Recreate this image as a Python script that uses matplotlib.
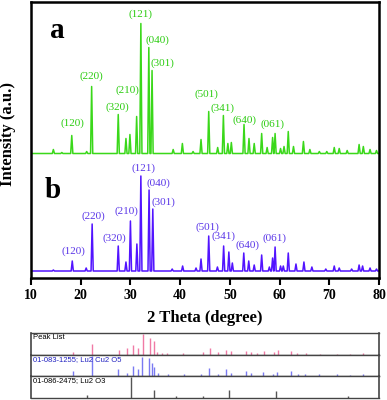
import matplotlib.pyplot as plt

# pattern a (green): peak positions (2 theta) and heights above its own baseline
a_pos = [14.5, 16.2, 18.2, 21.2, 22.2, 27.55, 29.1, 29.9, 31.25, 32.1, 33.7, 34.35,
         38.6, 40.45, 42.6, 44.2, 45.75, 47.55, 48.7, 49.6, 50.3, 52.85, 53.85, 54.9,
         56.4, 57.5, 58.6, 59.1, 60.2, 60.9, 61.75, 62.8, 64.8, 66.1, 68.0, 69.5,
         71.0, 72.0, 73.6, 76.0, 76.85, 78.2, 79.5]
a_int = [4, 1, 18, 2, 67, 39, 15, 19, 37, 130, 106, 83,
         4, 10, 2, 14, 42, 6, 38, 10, 11, 29, 15, 10,
         20, 6, 16, 20, 5, 7, 22, 7, 12, 4, 2, 2,
         6, 5, 3, 9, 7, 4, 3]

# pattern b (blue)
b_pos = [14.5, 18.3, 21.1, 22.3, 27.55, 29.1, 30.0, 31.3, 32.1, 33.75, 34.5,
         38.4, 40.5, 43.2, 44.2, 45.75, 47.5, 48.75, 49.8, 50.5, 52.8, 53.8, 54.9,
         56.4, 57.95, 58.6, 59.1, 60.2, 60.75, 61.75, 63.3, 64.9, 66.5, 69.3,
         71.0, 72.0, 74.5, 76.0, 76.7, 78.2, 79.5]
b_int = [1, 10, 3, 47, 25, 9, 50, 27, 95, 81, 62,
         2, 5, 3, 12, 35, 4, 25, 19, 8, 18, 10, 6,
         16, 4, 13, 24, 5, 5, 18, 7, 9, 4, 2,
         5, 3, 2, 6, 5, 3, 2]

a_offset = 124.5
b_offset = 7

hkl = ["(121)", "(040)", "(301)", "(220)", "(210)", "(320)", "(120)",
       "(501)", "(341)", "(640)", "(061)"]
a_lab_x = [31.93, 35.35, 36.35, 22.07, 29.31, 27.3, 18.25, 45.2, 48.62, 52.85, 58.48]
a_lab_y = [264, 238, 215, 202, 188, 171, 155, 184, 170, 158, 154]
b_lab_x = [32.53, 35.55, 36.55, 22.47, 29.11, 26.7, 18.45, 45.4, 48.82, 53.45, 59.08]
b_lab_y = [110, 95, 76, 62, 67, 40, 27, 51, 42, 33, 40]

# reference stick patterns
pk_pos = [18.5, 22.2, 27.7, 29.4, 30.5, 31.5, 32.45, 34.0, 34.7, 35.3, 36.4, 37.4,
          40.6, 44.5, 46.1, 47.7, 49.2, 50.2, 53.2, 54.2, 55.4, 56.9, 58.9, 59.6,
          62.3, 63.6, 65.4, 68.1, 71.5, 74.2, 76.7]
pk_int = [2.5, 11, 5, 7, 10, 7, 21, 17, 14, 3, 2, 2,
          2, 3, 7, 3, 5, 4, 4, 3, 2, 4, 3, 5,
          4, 2, 2, 1, 1, 1, 2]
cu_pos = [18.4, 22.2, 27.6, 29.4, 30.5, 31.5, 32.4, 33.8, 34.4, 34.75, 35.6, 37.6,
          40.8, 44.2, 45.8, 47.7, 49.2, 50.2, 53.2, 54.2, 56.7, 58.7, 59.4, 62.2,
          63.7, 65.2, 68.0, 71.5, 74.2, 76.7]
cu_int = [5, 21, 7, 3, 11, 7, 20, 19, 14, 9, 3, 2,
          2, 2, 8, 2, 7, 3, 5, 3, 4, 2, 4, 5,
          2, 2, 2, 2, 1, 2]
lu_pos = [21.2, 30.1, 34.8, 39.2, 44.5, 49.9, 59.3, 73.8]
lu_int = [3.5, 21, 8, 2, 2, 8, 7, 2]

serif = ["Liberation Serif", "DejaVu Serif"]
sans = ["Liberation Sans", "DejaVu Sans"]


def trace(pos, heights, base, w=0.22):
    xs, ys = [10], [base]
    for p, h in zip(pos, heights):
        xs += [p - w, p, p + w]
        ys += [base, base + h, base]
    xs.append(80)
    ys.append(base)
    return xs, ys


fig = plt.figure(figsize=(3.87, 4.0), dpi=100)
ax = fig.add_axes([0.0801, 0.305, 0.8992, 0.69])

green_line, green_txt = "#3ad81a", "#2bcc10"
blue_line, blue_txt = "#5214ff", "#5a36e8"

x, y = trace(a_pos, a_int, a_offset)
ax.plot(x, y, color=green_line, lw=1.1)
x, y = trace(b_pos, b_int, b_offset)
ax.plot(x, y, color=blue_line, lw=1.1)

for t, lx, ly in zip(hkl, a_lab_x, a_lab_y):
    ax.text(lx, ly, t, color=green_txt, ha="center", va="center",
            family=serif, fontsize=8)
for t, lx, ly in zip(hkl, b_lab_x, b_lab_y):
    ax.text(lx, ly, t, color=blue_txt, ha="center", va="center",
            family=serif, fontsize=8)

ax.text(15.2, 248, "a", fontsize=21, fontweight="bold", family=serif,
        ha="center", va="center")
ax.text(14.4, 88, "b", fontsize=21, fontweight="bold", family=serif,
        ha="center", va="center")

ax.set_xlim(10, 80)
ax.set_ylim(0, 276)
ax.set_yticks([])
ax.set_xticks(range(10, 81, 10))
ax.tick_params(axis="x", direction="out", length=5, width=1.5, pad=3)
for lab in ax.get_xticklabels():
    lab.set_fontfamily(serif)
    lab.set_fontweight("bold")
    lab.set_fontsize(10)
for s in ax.spines.values():
    s.set_linewidth(1.8)
ax.set_xlabel("2 Theta (degree)", family=serif, fontweight="bold",
              fontsize=12, labelpad=6)
fig.text(8 / 387, 1 - 134 / 400, "Intensity (a.u.)", rotation=90,
         family=serif, fontweight="bold", fontsize=12,
         ha="center", va="center")

# reference cards panel
rows = [
    ("Peak List", pk_pos, pk_int, "#f07aa5", "black"),
    ("01-083-1255; Lu2 Cu2 O5", cu_pos, cu_int, "#7a7af2", "#2020c0"),
    ("01-086-2475; Lu2 O3", lu_pos, lu_int, "#555555", "black"),
]
row_h = 0.1625 / 3
for i, (name, pos, hts, c, tc) in enumerate(rows):
    rax = fig.add_axes([0.0801, 0.005 + (2 - i) * row_h, 0.8992, row_h])
    rax.vlines(pos, 0, hts, color=c, lw=1.0)
    rax.set_xlim(10, 80)
    rax.set_ylim(0, 22)
    rax.set_xticks([])
    rax.set_yticks([])
    rax.text(0.005, 0.95, name, transform=rax.transAxes, ha="left", va="top",
             family=sans, fontsize=5.5, color=tc)
    for side, s in rax.spines.items():
        s.set_color("#444444")
        s.set_linewidth(1.0)
        if side in ("left", "right"):
            s.set_linewidth(1.2)

fig.savefig("out.png", dpi=100)
